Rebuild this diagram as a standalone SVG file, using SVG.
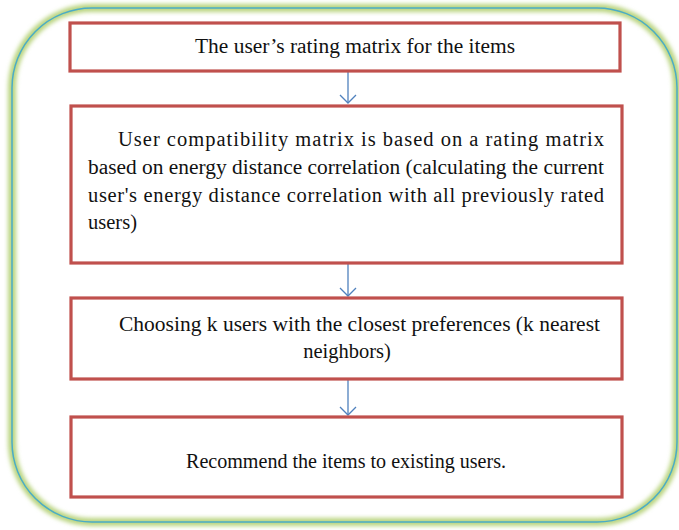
<svg xmlns="http://www.w3.org/2000/svg" width="679" height="530" viewBox="0 0 679 530">
<defs>
<filter id="glow" x="-10%" y="-10%" width="120%" height="120%"><feGaussianBlur stdDeviation="2.2"/></filter>
<marker id="arr" markerWidth="20" markerHeight="20" refX="10" refY="10" orient="auto" markerUnits="userSpaceOnUse">
<path d="M2,2 L10,10 L2,18" fill="none" stroke="#4F81BD" stroke-width="1.3"/>
</marker>
</defs>
<style>
.box{fill:#FFFFFF;stroke:#C0504D;stroke-width:3.2}
.t{font-family:"Liberation Serif","Times New Roman",serif;font-size:20.5px;fill:#111111}
.c{text-anchor:middle}
.conn line{stroke:#4F81BD;stroke-width:1.3;marker-end:url(#arr)}
</style>
<rect width="679" height="530" fill="#FFFFFF"/>
<g id="frame">
<rect x="12" y="8" width="665" height="514" rx="80" ry="80" fill="none" stroke="#B9D47F" stroke-width="8" filter="url(#glow)"/>
<rect x="12" y="8" width="665" height="514" rx="80" ry="80" fill="none" stroke="#4BACC6" stroke-width="1.5"/>
</g>
<g id="connectors" class="conn">
<line x1="348" y1="72" x2="348" y2="103"/>
<line x1="348" y1="264" x2="348" y2="296"/>
<line x1="348" y1="380" x2="348" y2="415"/>
</g>
<g id="n1">
<rect class="box" x="70" y="23" width="550" height="48"/>
<text class="t" x="195" y="53" textLength="320" lengthAdjust="spacingAndGlyphs">The user’s rating matrix for the items</text>
</g>
<g id="n2">
<rect class="box" x="71" y="106" width="551" height="157"/>
<text class="t" x="118" y="146" textLength="486" lengthAdjust="spacing">User compatibility matrix is based on a rating matrix</text>
<text class="t" x="88" y="174" textLength="516" lengthAdjust="spacingAndGlyphs">based on energy distance correlation (calculating the current</text>
<text class="t" x="88" y="202" textLength="516" lengthAdjust="spacing">user's energy distance correlation with all previously rated</text>
<text class="t" x="88" y="229">users)</text>
</g>
<g id="n3">
<rect class="box" x="71" y="298" width="551" height="81"/>
<text class="t" x="119" y="331" textLength="481" lengthAdjust="spacingAndGlyphs">Choosing k users with the closest preferences (k nearest</text>
<text class="t c" x="347" y="358">neighbors)</text>
</g>
<g id="n4">
<rect class="box" x="71" y="417" width="551" height="80"/>
<text class="t" x="186" y="468" textLength="320" lengthAdjust="spacingAndGlyphs">Recommend the items to existing users.</text>
</g>
</svg>
